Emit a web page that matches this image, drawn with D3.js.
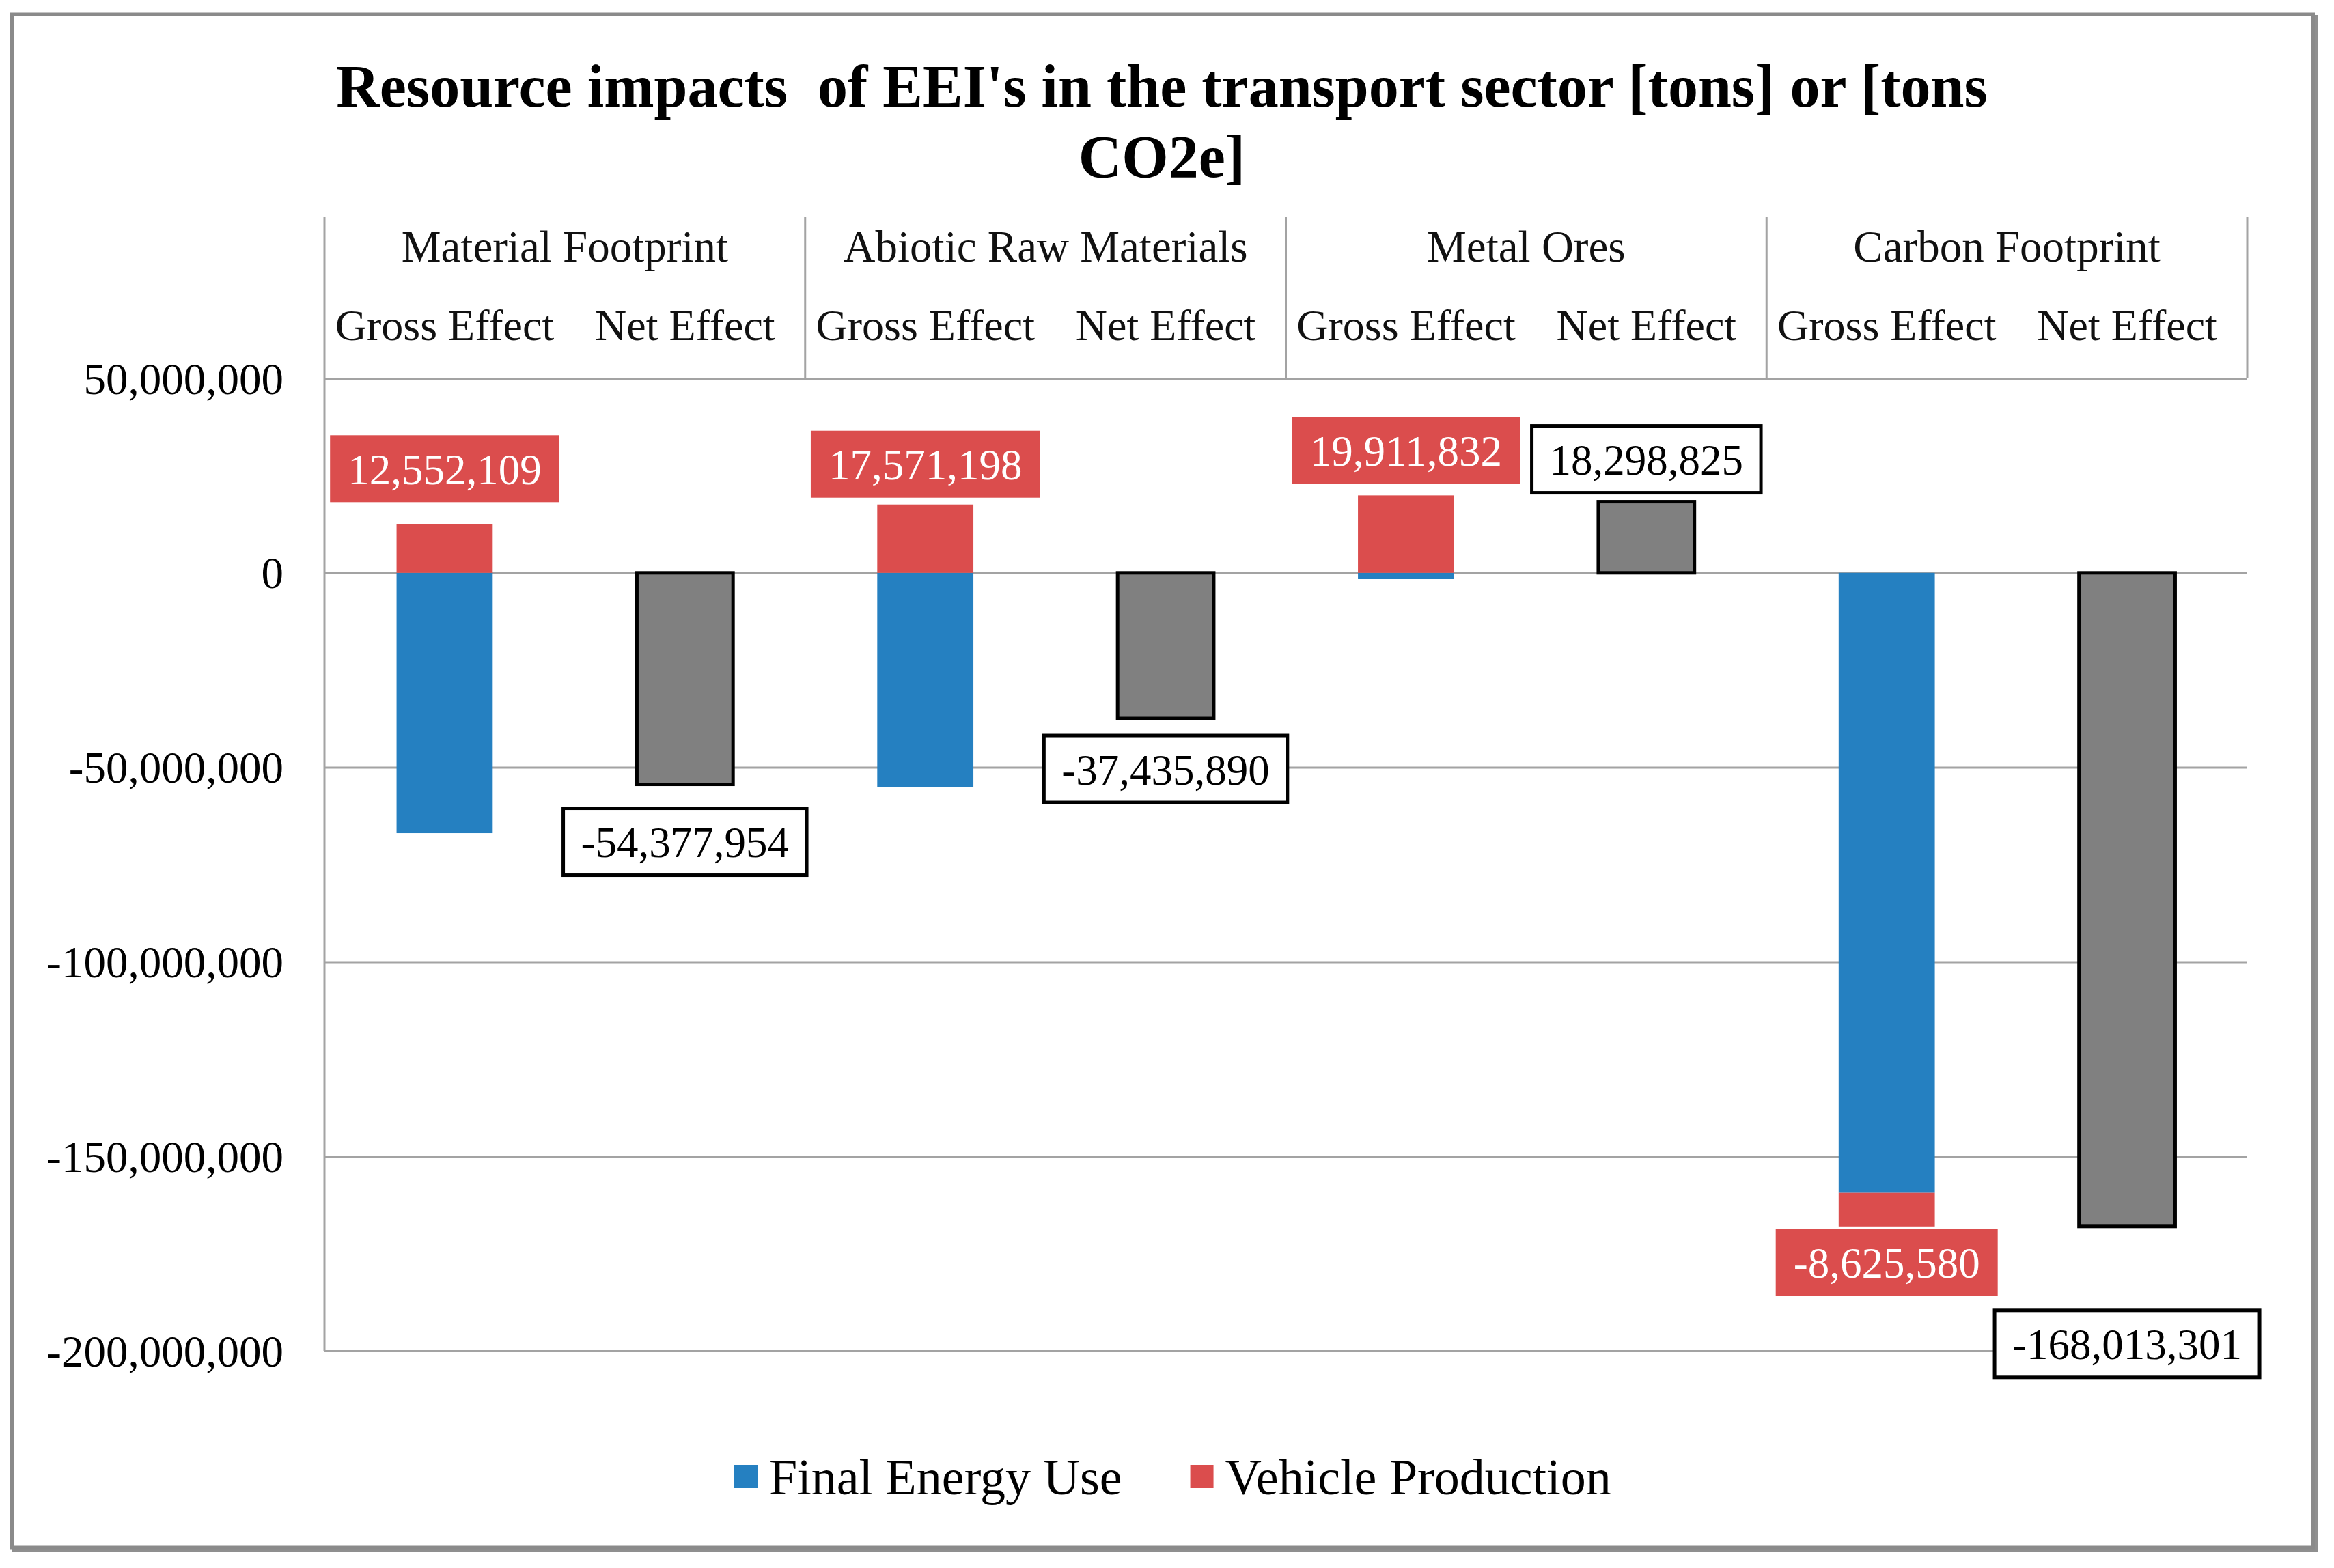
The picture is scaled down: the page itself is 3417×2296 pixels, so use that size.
<!DOCTYPE html>
<html>
<head>
<meta charset="utf-8">
<script src="https://cdn.jsdelivr.net/npm/d3@7"></script>
<style>
  html, body { margin: 0; padding: 0; background: #fff; }
  svg { display: block; font-family: 'Liberation Serif', 'Times New Roman', serif; }
</style>
</head>
<body>
<svg id="chart"></svg>
<script>
// chart values
var categories = ['Material Footprint', 'Abiotic Raw Materials', 'Metal Ores', 'Carbon Footprint'];
var effects = ['Gross Effect', 'Net Effect'];
var seriesNames = ['Final Energy Use', 'Vehicle Production'];
var finalEnergyUse = [-66930063, -55007088, -1613007, -159387721];
var vehicleProduction = [12552109, 17571198, 19911832, -8625580];
var netEffect = [-54377954, -37435890, 18298825, -168013301];
var yTicks = [50000000, 0, -50000000, -100000000, -150000000, -200000000];
var titleLines = ['Resource impacts  of EEI\'s in the transport sector [tons] or [tons', 'CO2e]'];

// label nudges (px gap between bar end and its label box)
var vpLabelGap = [32, 10, 17, 4];
var netLabelGap = [35, 25, 13, 123];

// initialise layout variables
var width = 3417;
var height = 2296;
var plot = {left: 475, right: 3290, header: 318, top: 554, bottom: 1978};
var colors = {feu: '#2580c1', vp: '#db4d4d', net: '#808080'};

// number format with plain hyphen for negatives
var fmt = d3.formatLocale({decimal: '.', thousands: ',', grouping: [3], currency: ['$', ''], minus: '-'}).format(',');

var svg = d3.select('#chart')
  .attr('width', width)
  .attr('height', height);

// outer frame with a little shadow
svg.append('rect')
  .attr('x', 21).attr('y', 25)
  .attr('width', 3369).attr('height', 2245)
  .style('fill', 'none')
  .style('stroke', '#8f8f8f')
  .style('stroke-width', 6);
svg.append('rect')
  .attr('x', 17.5).attr('y', 21)
  .attr('width', 3369).attr('height', 2245)
  .style('fill', '#fff')
  .style('stroke', '#8a8a8a')
  .style('stroke-width', 5);

// title
var title = svg.append('text')
  .attr('text-anchor', 'middle')
  .style('font-weight', 'bold')
  .style('font-size', '88px')
  .style('white-space', 'pre')
  .style('fill', '#000');
titleLines.forEach(function(t, i) {
  title.append('tspan')
    .attr('x', 1701)
    .attr('y', 156 + i * 103)
    .text(t);
});

// scales
var x0 = d3.scaleBand().domain(categories).range([plot.left, plot.right]);
var x1 = d3.scaleBand().domain(effects).range([0, x0.bandwidth()])
  .paddingInner(0.6).paddingOuter(0.3);
var y = d3.scaleLinear().domain([-200000000, 50000000]).range([plot.bottom, plot.top]);

// gridlines + tick labels
var yAxis = svg.append('g')
  .attr('transform', 'translate(' + plot.left + ',0)')
  .call(d3.axisLeft(y)
    .tickValues(yTicks)
    .tickSize(-(plot.right - plot.left))
    .tickPadding(60)
    .tickFormat(fmt));
yAxis.select('.domain').remove();
yAxis.attr('font-family', null).attr('font-size', null);
yAxis.selectAll('line')
  .style('stroke', '#a3a3a3')
  .style('stroke-width', 3);
yAxis.selectAll('text')
  .style('font-size', '65px')
  .style('fill', '#000')
  .attr('dy', '0.34em');

// vertical axis line and header separators
svg.append('line')
  .attr('x1', plot.left).attr('x2', plot.left)
  .attr('y1', plot.header).attr('y2', plot.bottom)
  .style('stroke', '#a3a3a3').style('stroke-width', 3);
var seps = categories.slice(1).map(function(c) { return x0(c); }).concat([plot.right]);
svg.selectAll('line.sep')
  .data(seps)
  .enter()
  .append('line')
    .classed('sep', true)
    .attr('x1', function(d) { return d; })
    .attr('x2', function(d) { return d; })
    .attr('y1', plot.header)
    .attr('y2', plot.top)
    .style('stroke', '#a3a3a3')
    .style('stroke-width', 3);

// category header labels
svg.selectAll('text.cat')
  .data(categories)
  .enter()
  .append('text')
    .classed('cat', true)
    .attr('x', function(d) { return x0(d) + x0.bandwidth() / 2; })
    .attr('y', 383)
    .attr('text-anchor', 'middle')
    .style('font-size', '65px')
    .style('fill', '#111')
    .text(function(d) { return d; });

var sub = [];
categories.forEach(function(c) {
  effects.forEach(function(e) { sub.push({cat: c, eff: e}); });
});
svg.selectAll('text.eff')
  .data(sub)
  .enter()
  .append('text')
    .classed('eff', true)
    .attr('x', function(d) { return x0(d.cat) + x1(d.eff) + x1.bandwidth() / 2; })
    .attr('y', 498)
    .attr('text-anchor', 'middle')
    .style('font-size', '64px')
    .style('fill', '#111')
    .text(function(d) { return d.eff; });

// stacked gross bars (negatives and positives stack apart, like Excel)
var rows = categories.map(function(c, i) {
  return {cat: c, feu: finalEnergyUse[i], vp: vehicleProduction[i]};
});
var stacked = d3.stack().keys(['feu', 'vp']).offset(d3.stackOffsetDiverging)(rows);

stacked.forEach(function(layer) {
  svg.selectAll('rect.' + layer.key)
    .data(layer)
    .enter()
    .append('rect')
      .classed(layer.key, true)
      .attr('x', function(d) { return x0(d.data.cat) + x1('Gross Effect'); })
      .attr('width', x1.bandwidth())
      .attr('y', function(d) { return y(d[1]); })
      .attr('height', function(d) { return y(d[0]) - y(d[1]); })
      .style('fill', colors[layer.key]);
});

// net bars
svg.selectAll('rect.net')
  .data(netEffect)
  .enter()
  .append('rect')
    .classed('net', true)
    .attr('x', function(d, i) { return x0(categories[i]) + x1('Net Effect'); })
    .attr('width', x1.bandwidth())
    .attr('y', function(d) { return y(Math.max(d, 0)); })
    .attr('height', function(d) { return Math.abs(y(d) - y(0)); })
    .style('fill', colors.net)
    .style('stroke', '#000')
    .style('stroke-width', 5);

// data label boxes
function drawLabel(cx, edge, up, gap, value, fill, stroke, textColor) {
  var g = svg.append('g');
  var boxH = 98;
  var top = up ? edge - gap - boxH : edge + gap;
  var rect = g.append('rect');
  var t = g.append('text')
    .attr('x', cx)
    .attr('y', top + boxH / 2)
    .attr('dy', '0.36em')
    .attr('text-anchor', 'middle')
    .style('font-size', '63px')
    .style('fill', textColor)
    .text(fmt(value));
  var w = t.node().getComputedTextLength() + 52;
  rect.attr('x', cx - w / 2)
    .attr('y', top)
    .attr('width', w)
    .attr('height', boxH)
    .style('fill', fill)
    .style('stroke', stroke)
    .style('stroke-width', stroke === 'none' ? 0 : 5);
}

stacked[1].forEach(function(d, i) {
  var cx = x0(d.data.cat) + x1('Gross Effect') + x1.bandwidth() / 2;
  var up = d.data.vp >= 0;
  drawLabel(cx, up ? y(d[1]) : y(d[0]), up, vpLabelGap[i], d.data.vp, colors.vp, 'none', '#fff');
});
netEffect.forEach(function(v, i) {
  var cx = x0(categories[i]) + x1('Net Effect') + x1.bandwidth() / 2;
  drawLabel(cx, y(v), v >= 0, netLabelGap[i], v, '#fff', '#000', '#000');
});

// legend
var legend = svg.append('g');
var lx = 1075;
seriesNames.forEach(function(name, i) {
  legend.append('rect')
    .attr('x', lx)
    .attr('y', 2145)
    .attr('width', 34)
    .attr('height', 34)
    .style('fill', i === 0 ? colors.feu : colors.vp);
  var t = legend.append('text')
    .attr('x', lx + 51)
    .attr('y', 2188)
    .style('font-size', '74px')
    .style('fill', '#000')
    .text(name);
  lx += 51 + t.node().getComputedTextLength() + 100;
});
</script>
</body>
</html>
